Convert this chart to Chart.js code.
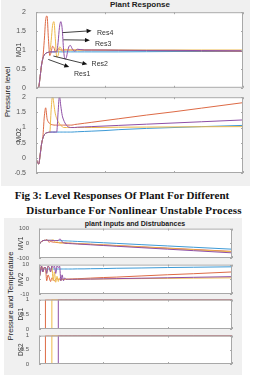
<!DOCTYPE html>
<html>
<head>
<meta charset="utf-8">
<script src="https://cdn.jsdelivr.net/npm/chart.js@4.4.1/dist/chart.umd.min.js"></script>
<style>
  body { margin: 0; width: 253px; height: 375px; position: relative; background: #fff; overflow: hidden; font-family: "Liberation Sans", Arial, sans-serif; }
  .fig { position: absolute; background: #f0f0f0; }
  canvas { position: absolute; }
  .txt { position: absolute; white-space: nowrap; transform: translate(-50%, -50%); color: #222; }
  .rot { transform: translate(-50%, -50%) rotate(-90deg); }
  .cap { position: absolute; white-space: nowrap; font-family: "Liberation Serif", "Times New Roman", serif; font-weight: bold; font-size: 11px; color: #111; transform: translate(-50%, -50%); }
</style>
</head>
<body>
<div class="fig" style="left:1px;top:0;width:249px;height:186px"></div>
<div class="fig" style="left:4px;top:218px;width:238px;height:157px"></div>

<div class="txt" style="left:140px;top:4px;font-weight:bold;font-size:8px">Plant Response</div>
<div class="txt rot" style="left:7px;top:92px;font-size:8px">Pressure level</div>
<div class="cap" style="left:122px;top:195px">Fig 3: Level Responses Of Plant For Different</div>
<div class="cap" style="left:134px;top:210px;letter-spacing:0.15px">Disturbance For Nonlinear Unstable Process</div>
<div class="txt" style="left:135px;top:223px;font-weight:bold;font-size:7px">plant inputs and Distrubances</div>
<div class="txt rot" style="left:10px;top:296px;font-size:7.5px">Pressure and Temperature</div>

<script>
// time samples (s)
const time = [0,1,2,3,4,5,6,7,8,9,10,11,12,13,14,15,16,17,18,19,20,21,22,23,24,25,26,28,30,35,40,50,60,80,100,120,150];

const seriesNames = ["Res1", "Res2", "Res3", "Res4"];
const seriesColors = ["#3d9ad6", "#dd6a45", "#edb94a", "#8e4fa6"];

// MO1
const mo1Res1 = [0,0,0.03,0.3,0.6,0.78,0.87,0.91,0.93,0.94,0.95,0.95,0.95,0.95,0.95,0.95,0.95,0.95,0.95,0.95,0.95,0.95,0.95,0.95,0.95,0.95,0.95,0.95,0.95,0.95,0.95,0.95,0.95,0.955,0.96,0.96,0.965];
const mo1Res2 = [0,0,0.03,0.3,0.6,0.8,1.25,1.8,1.9,1.3,0.85,0.95,1.1,1.06,0.96,0.98,1.03,1.02,1.0,1.0,1.0,1.0,1.0,1.0,1.0,1.0,1.0,1.0,1.0,1.0,1.0,0.995,0.99,0.985,0.98,0.975,0.97];
const mo1Res3 = [0,0,0.03,0.3,0.6,0.78,0.87,0.91,0.93,0.94,0.95,1.25,1.65,1.75,1.3,0.82,0.85,1.08,1.06,0.97,0.98,1.02,1.01,1.0,1.0,1.0,1.0,1.0,1.0,1.0,1.0,1.0,1.0,1.0,1.0,1.0,1.0];
const mo1Res4 = [0,0,0.03,0.3,0.6,0.78,0.87,0.91,0.93,0.94,0.95,0.95,0.95,0.95,0.95,0.95,1.2,1.6,1.75,1.55,1.0,0.76,0.8,0.98,1.1,1.12,1.05,0.97,1.02,1.0,1.0,1.0,0.995,0.99,0.99,0.985,0.98];

// MO2
const mo2Res1 = [0,-0.15,-0.2,0.1,0.45,0.65,0.76,0.81,0.83,0.84,0.85,0.85,0.85,0.85,0.85,0.85,0.85,0.85,0.85,0.85,0.85,0.85,0.85,0.85,0.85,0.85,0.85,0.855,0.86,0.87,0.88,0.9,0.93,0.97,1.0,1.03,1.07];
const mo2Res2 = [0,-0.15,-0.2,0.1,0.45,0.7,1.35,1.65,1.3,1.18,1.13,1.1,1.09,1.08,1.08,1.08,1.08,1.08,1.08,1.08,1.08,1.08,1.08,1.08,1.08,1.08,1.08,1.1,1.11,1.14,1.17,1.23,1.29,1.41,1.52,1.64,1.82];
const mo2Res3 = [0,-0.15,-0.2,0.1,0.45,0.65,0.76,0.81,0.83,0.84,0.85,1.6,2.05,1.75,1.45,1.3,1.2,1.12,1.07,1.03,1.0,1.0,1.0,1.0,1.0,1.0,1.0,1.0,1.0,1.0,1.0,1.005,1.01,1.015,1.02,1.025,1.03];
const mo2Res4 = [0,-0.15,-0.2,0.1,0.45,0.65,0.76,0.81,0.83,0.84,0.85,0.85,0.85,0.85,0.85,0.85,1.5,2.05,1.7,1.4,1.25,1.15,1.08,1.03,1.01,1.0,1.0,1.0,1.01,1.02,1.03,1.05,1.07,1.11,1.15,1.19,1.25];

// MV1
const mv1Res1 = [0,5,12,18,20,20,21,20,20,20,20,19,19,19,19,19,18,18,18,18,17,16.6,16.1,15.7,15.2,14.8,14.4,13.5,12.6,10.4,8.2,3.8,-0.5,-9.3,-18,-26.8,-40];
const mv1Res2 = [0,5,12,18,20,20,25,14,8,12,10,8,7,6,5,5,4,4,4,3,3,2.6,2.1,1.7,1.2,0.8,0.3,-0.6,-1.5,-3.7,-5.9,-10.4,-14.8,-23.8,-32.7,-41.6,-55];
const mv1Res3 = [0,5,12,18,20,20,21,20,20,20,20,25,14,6,9,5,3,2,2,2,2,1.5,1.1,0.6,0.2,-0.3,-0.8,-1.7,-2.6,-4.9,-7.2,-11.8,-16.5,-25.7,-34.9,-44.2,-58];
const mv1Res4 = [0,5,12,18,20,20,21,20,20,20,20,19,19,19,19,19,29,25,10,4,1,-0.5,-1,-1.5,-2,-2.5,-3,-4,-5,-7.5,-10,-15,-20,-30,-40,-50,-65];

// MV2
const mv2Res1 = [0,4,7,7,7,7,7,7,7,7,7,7,7,7,7,7,7,7,7,7,7,7,7,7,7,7,7,7.05,7.1,7.1,7.2,7.3,7.5,7.7,8,8.2,8.5];
const mv2Res2 = [0,5,9,5,8,8,-1,3,1,-1.5,1,0,-1,0,0.5,0,0,0,0,0,0,0.04,0.08,0.12,0.15,0.2,0.23,0.3,0.4,0.6,0.8,1.2,1.5,2.3,3.1,3.8,5];
const mv2Res3 = [0,5,9,5,8,8,4,9,8,5,9,-1,5,-2,2,-1.5,1,-1,0,0,0,0,0,0,0,0,0,0.02,0.05,0.1,0.15,0.25,0.35,0.5,0.65,0.8,1];
const mv2Res4 = [0,5,9,5,8,8,4,9,8,5,9,8,9,4,9,8,9,-1,3,-1,1,0,0,0,0,0,0,0.03,0.05,0.1,0.15,0.3,0.45,0.75,1.05,1.35,1.8];

// DS1 / DS2 (step disturbances)
const dsRes1 = [0,0,0,0,0,0,0,0,0,0,0,0,0,0,0,0,0,0,0,0,0,0,0,0,0,0,0,0,0,0,0,0,0,0,0,0,0];
const dsRes2 = [0,0,0,0,0,1,1,1,1,1,1,1,1,1,1,1,1,1,1,1,1,1,1,1,1,1,1,1,1,1,1,1,1,1,1,1,1];
const dsRes3 = [0,0,0,0,0,0,0,0,0,0,1,1,1,1,1,1,1,1,1,1,1,1,1,1,1,1,1,1,1,1,1,1,1,1,1,1,1];
const dsRes4 = [0,0,0,0,0,0,0,0,0,0,0,0,0,0,0,1,1,1,1,1,1,1,1,1,1,1,1,1,1,1,1,1,1,1,1,1,1];

// annotation arrows on MO1 (data units)
const arrowTail = [[8.9,0.75],[12.6,0.84],[19.8,1.27],[19.3,1.46]];
const arrowHead = [[24.1,0.55],[37.2,0.62],[39.1,1.26],[40.3,1.51]];
const labelAt   = [[27.5,0.36],[40.3,0.62],[42.8,1.16],[44.2,1.46]];

const axesBox = {
  id: "axesBox",
  beforeDraw(chart) {
    const a = chart.chartArea, ctx = chart.ctx;
    ctx.save();
    ctx.fillStyle = "#fff";
    ctx.fillRect(a.left, a.top, a.right - a.left, a.bottom - a.top);
    ctx.restore();
  },
  afterDraw(chart) {
    const a = chart.chartArea, ctx = chart.ctx;
    const sx = chart.scales.x, sy = chart.scales.y;
    ctx.save();
    ctx.strokeStyle = "#a8a8a8";
    ctx.lineWidth = 1;
    ctx.strokeRect(a.left + 0.5, a.top + 0.5, a.right - a.left - 1, a.bottom - a.top - 1);
    ctx.beginPath();
    sx.ticks.forEach(t => {
      const x = Math.round(sx.getPixelForValue(t.value)) + 0.5;
      ctx.moveTo(x, a.bottom); ctx.lineTo(x, a.bottom - 2);
      ctx.moveTo(x, a.top); ctx.lineTo(x, a.top + 2);
    });
    sy.ticks.forEach(t => {
      const y = Math.round(sy.getPixelForValue(t.value)) + 0.5;
      ctx.moveTo(a.left, y); ctx.lineTo(a.left + 2, y);
      ctx.moveTo(a.right, y); ctx.lineTo(a.right - 2, y);
    });
    ctx.stroke();
    ctx.restore();
  }
};

const resArrows = {
  id: "resArrows",
  afterDraw(chart) {
    const ctx = chart.ctx, sx = chart.scales.x, sy = chart.scales.y;
    ctx.save();
    ctx.lineWidth = 0.8;
    seriesNames.forEach((name, i) => {
      const x0 = sx.getPixelForValue(arrowTail[i][0]), y0 = sy.getPixelForValue(arrowTail[i][1]);
      const x1 = sx.getPixelForValue(arrowHead[i][0]), y1 = sy.getPixelForValue(arrowHead[i][1]);
      const ang = Math.atan2(y1 - y0, x1 - x0);
      ctx.strokeStyle = "#111";
      ctx.fillStyle = "#111";
      ctx.beginPath();
      ctx.moveTo(x0, y0);
      ctx.lineTo(x1 - 4 * Math.cos(ang), y1 - 4 * Math.sin(ang));
      ctx.stroke();
      ctx.beginPath();
      ctx.moveTo(x1, y1);
      ctx.lineTo(x1 - 5 * Math.cos(ang) + 2.2 * Math.sin(ang), y1 - 5 * Math.sin(ang) - 2.2 * Math.cos(ang));
      ctx.lineTo(x1 - 5 * Math.cos(ang) - 2.2 * Math.sin(ang), y1 - 5 * Math.sin(ang) + 2.2 * Math.cos(ang));
      ctx.closePath();
      ctx.fill();
      ctx.font = "7px 'Liberation Sans'";
      ctx.fillStyle = "#333";
      ctx.textBaseline = "middle";
      ctx.fillText(name, sx.getPixelForValue(labelAt[i][0]), sy.getPixelForValue(labelAt[i][1]));
    });
    ctx.restore();
  }
};

function lines(values, stepped) {
  return values.map((vals, i) => ({
    label: seriesNames[i],
    data: vals.map((v, k) => ({ x: time[k], y: v })),
    borderColor: seriesColors[i],
    borderWidth: 1,
    pointRadius: 0,
    stepped: stepped ? true : false,
    cubicInterpolationMode: "monotone",
    order: 3 - i
  }));
}

function makePlot(box, datasets, yMin, yMax, yStep, yTitle, showX, yw, fs, extra) {
  const PT = 5, PR = 9, XH = showX ? 11 : 6;
  const w = box.r - box.l + yw + PR, h = box.b - box.t + PT + XH;
  const c = document.createElement("canvas");
  c.width = w; c.height = h;
  c.style.left = (box.l - yw) + "px";
  c.style.top = (box.t - PT) + "px";
  c.style.width = w + "px";
  c.style.height = h + "px";
  document.body.appendChild(c);
  const tickFont = { family: "Liberation Sans", size: fs };
  new Chart(c, {
    type: "line",
    data: { datasets: datasets },
    options: {
      responsive: false,
      animation: false,
      layout: { padding: { top: PT, right: PR, left: 0, bottom: 0 } },
      plugins: { legend: { display: false }, tooltip: { enabled: false } },
      scales: {
        x: {
          type: "linear", min: 0, max: 150,
          ticks: { stepSize: 50, display: showX, font: tickFont, color: "#555", padding: 2, maxRotation: 0 },
          grid: { display: false }, border: { display: false },
          afterFit(s) { s.height = XH; }
        },
        y: {
          min: yMin, max: yMax,
          ticks: { stepSize: yStep, font: tickFont, color: "#555", padding: 2, callback: v => String(v) },
          grid: { display: false }, border: { display: false },
          title: { display: true, text: yTitle, font: { family: "Liberation Sans", size: 6.5 }, color: "#333", padding: 0 },
          afterFit(s) { s.width = yw; }
        }
      }
    },
    plugins: extra ? [axesBox, extra] : [axesBox]
  });
}

// Plant Response
makePlot({ l: 36, t: 11, r: 243, b: 88 }, lines([mo1Res1, mo1Res2, mo1Res3, mo1Res4]), 0, 2, 0.5, "MO1", false, 21, 7, resArrows);
makePlot({ l: 36, t: 96, r: 243, b: 173 }, lines([mo2Res1, mo2Res2, mo2Res3, mo2Res4]), -0.5, 2, 0.5, "MO2", true, 21, 7);

// plant inputs and disturbances
makePlot({ l: 39, t: 228, r: 232, b: 258 }, lines([mv1Res1, mv1Res2, mv1Res3, mv1Res4]), -100, 100, 100, "MV1", false, 22, 6);
makePlot({ l: 39, t: 264, r: 232, b: 294 }, lines([mv2Res1, mv2Res2, mv2Res3, mv2Res4]), -10, 10, 10, "MV2", false, 22, 6);
makePlot({ l: 39, t: 299, r: 232, b: 329 }, lines([dsRes1, dsRes2, dsRes3, dsRes4], true), 0, 1, 0.5, "DS1", false, 22, 6);
makePlot({ l: 39, t: 335, r: 232, b: 364 }, lines([dsRes1, dsRes2, dsRes3, dsRes4], true), 0, 1, 0.5, "DS2", true, 22, 6);
</script>
</body>
</html>
